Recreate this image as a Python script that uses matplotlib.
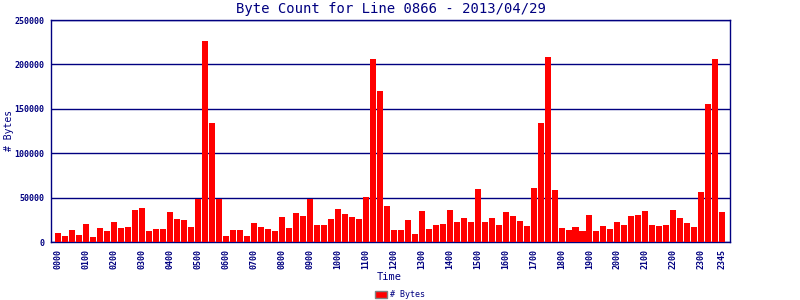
import numpy as np
import matplotlib
matplotlib.use("Agg")
import matplotlib.pyplot as plt

# 15-minute byte counts, 00:00 .. 23:45
byte_counts = [
    10100, 6800, 13500, 7900, 20300, 5600, 15800, 12400,
    22600, 15800, 16900, 36100, 38400, 12400, 14700, 14700,
    33800, 25900, 24800, 16900, 48900, 226700, 134200, 48900,
    6800, 13500, 13500, 6800, 21400, 16900, 14700, 12400,
    28200, 15800, 32700, 29300, 48900, 19200, 19200, 25900,
    37200, 31600, 28200, 25900, 50800, 206400, 170300, 40600,
    13500, 13500, 24800, 9000, 35000, 14700, 19200, 20300,
    36100, 22600, 27100, 22600, 59800, 22600, 27100, 19200,
    33800, 29300, 23700, 18000, 60900, 134200, 208700, 58600,
    15800, 13500, 16900, 12400, 30500, 12400, 18000, 14700,
    22600, 19200, 29300, 30500, 35000, 19200, 18000, 19200,
    36100, 27100, 21400, 16900, 56400, 155700, 206400, 33800,
]
tick_pos = list(range(0, 96, 4)) + [95]
tick_labels = ["%02d00" % h for h in range(24)] + ["2345"]
y_ticks = [0, 50000, 100000, 150000, 200000, 250000]

NAVY = "#000080"
plt.rcParams["font.family"] = "DejaVu Sans Mono"

fig = plt.figure(figsize=(8, 3), dpi=100)
ax = fig.add_axes([0.064, 0.193, 0.8485, 0.74])

x = np.arange(len(byte_counts))
ax.bar(x, byte_counts, width=0.86, color="#ff0000", label="# Bytes", zorder=3)

ax.set_xlim(-1, 96.1)
ax.set_ylim(0, 250000)
ax.set_yticks(y_ticks)
ax.set_yticklabels([str(v) for v in y_ticks], fontsize=6, color=NAVY, fontweight="bold")
ax.set_xticks(tick_pos)
ax.set_xticklabels(tick_labels, rotation=90, fontsize=6, color=NAVY, fontweight="bold")
ax.tick_params(length=0, pad=5)
ax.grid(axis="y", color=NAVY, linewidth=1, zorder=1)
for s in ax.spines.values():
    s.set_color(NAVY)
    s.set_linewidth(1)

ax.set_title("Byte Count for Line 0866 - 2013/04/29", fontsize=10, color=NAVY, pad=5)
fig.text(0.011, 0.565, "# Bytes", rotation=90, fontsize=7, color=NAVY,
         ha="center", va="center")
fig.text(0.487, 0.077, "Time", fontsize=7.5, color=NAVY, ha="center", va="center")

leg = fig.legend(loc="center", bbox_to_anchor=(0.5, 0.018), frameon=False,
                 fontsize=6, handlelength=1.4, handleheight=0.9, handletextpad=0.3,
                 borderpad=0)
for t in leg.get_texts():
    t.set_color(NAVY)
for p in leg.get_patches():
    p.set_edgecolor("#808080")

fig.savefig("out.png", dpi=100)
